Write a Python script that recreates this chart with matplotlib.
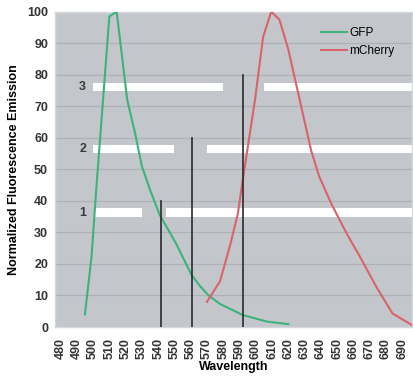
""" Normalized fluorescence emission of GFP and mCherry """

import matplotlib
matplotlib.use('Agg')
import matplotlib.pyplot as plt

# emission spectra
gfp_wl = [495, 499, 502, 510, 514.5, 521, 526, 530, 535, 541, 551, 560.5, 566, 571, 578, 592, 607, 620]
gfp = [4, 22, 44, 98.5, 100, 72, 61, 51, 43.5, 35.5, 26.5, 16.5, 12.8, 10, 7.3, 3.8, 1.7, 0.9]

mch_wl = [570, 578, 584, 589, 591.5, 599.5, 604.5, 609.5, 614.5, 620, 627, 634, 639, 646.5, 656, 664, 674, 684, 696]
mch = [8, 14.5, 25.5, 36, 45, 72, 92, 100, 97.5, 88, 72, 56, 47.7, 39, 29.5, 22.3, 12.8, 4.3, 0.6]

# filter cut-off lines (wavelength, height)
cut_wl = [541.5, 560.5, 592]
cut_top = [40, 60, 80]

# white band segments per row: (start, end)
band_labels = ['1', '2', '3']
band_y = [36.3, 56.4, 76.2]
band_segments = [
    [(500.5, 530), (545, 696)],
    [(500, 550), (570.3, 696)],
    [(500, 580), (605, 696)],
]

ticks = list(range(480, 700, 10))

plt.rcParams['font.family'] = ['Liberation Sans', 'DejaVu Sans']

fig = plt.figure(figsize=(4.13, 3.79), dpi=100)
ax = fig.add_axes([55 / 413, 1 - 327 / 379, 357 / 413, 315.3 / 379])
ax.set_facecolor('#c3c7cc')

for y in range(10, 100, 10):
    ax.axhline(y, color='#aeb2b7', lw=0.9, zorder=1)

for y, segs in zip(band_y, band_segments):
    for x0, x1 in segs:
        ax.barh(y, x1 - x0, left=x0, height=2.6, color='white', lw=0, zorder=2)
for y, lab in zip(band_y, band_labels):
    ax.text(493.6, y, lab, ha='center', va='center', fontsize=9, fontweight='bold',
            color='#3a3a3a', zorder=3)

ax.plot(gfp_wl, gfp, color='#3db27c', lw=1.5, label='GFP', zorder=4)
ax.plot(mch_wl, mch, color='#d9636c', lw=1.5, label='mCherry', zorder=4)

for x, top in zip(cut_wl, cut_top):
    ax.plot([x, x], [0, top], color='#2a2a2a', lw=1.2, zorder=5)

ax.set_xlim(476.6, 696)
ax.set_ylim(0, 100)
ax.set_xticks(ticks)
ax.set_xticklabels([str(t) for t in ticks], rotation=90)
ax.set_yticks(range(0, 101, 10))
ax.tick_params(length=0, labelsize=9, labelcolor='#333333')
for lab in ax.get_xticklabels() + ax.get_yticklabels():
    lab.set_fontweight('bold')
ax.tick_params(axis='y', pad=5)
ax.tick_params(axis='x', pad=8)
for s in ax.spines.values():
    s.set_color('#d5d7da')
    s.set_linewidth(1)

ax.set_xlabel('Wavelength', fontsize=9, fontweight='bold', labelpad=1)
ax.set_ylabel('Normalized Fluorescence Emission', fontsize=9, fontweight='bold', labelpad=5)

ax.legend(loc='upper left', bbox_to_anchor=(0.745, 0.95), frameon=False, fontsize=8.5,
          handlelength=2.2, handletextpad=0.2, labelspacing=0.45, borderpad=0, borderaxespad=0)

fig.savefig('out.png', dpi=100, facecolor='white')
